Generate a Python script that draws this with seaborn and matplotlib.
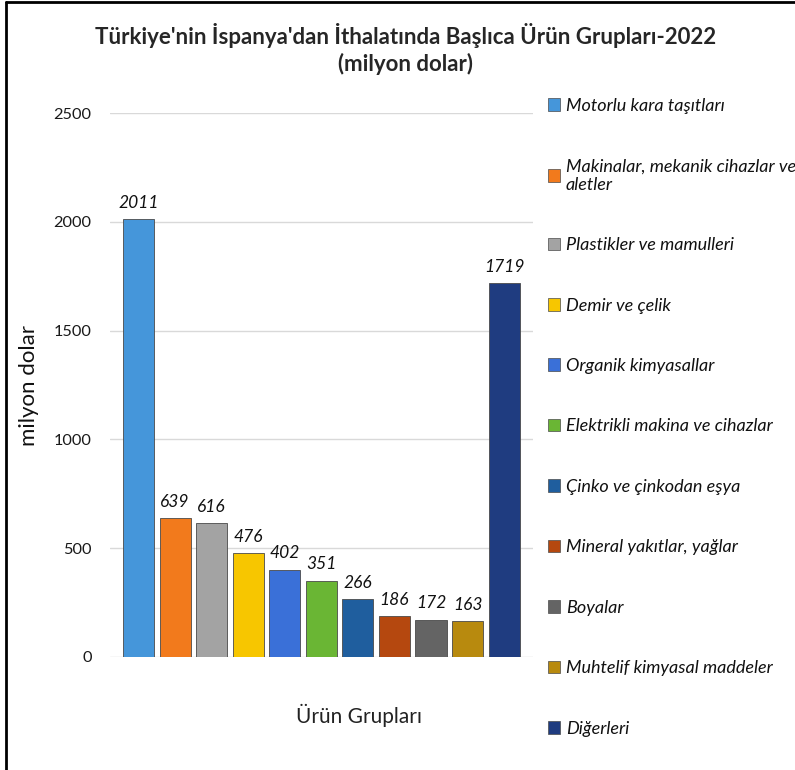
import matplotlib
matplotlib.use("Agg")
import matplotlib.pyplot as plt
import seaborn as sns
import pandas as pd
from matplotlib.patches import Patch
from matplotlib.lines import Line2D

# Data
urunler = ["Motorlu kara taşıtları", "Makinalar, mekanik cihazlar ve\naletler",
           "Plastikler ve mamulleri", "Demir ve çelik", "Organik kimyasallar",
           "Elektrikli makina ve cihazlar", "Çinko ve çinkodan eşya",
           "Mineral yakıtlar, yağlar", "Boyalar", "Muhtelif kimyasal maddeler",
           "Diğerleri"]
degerler = [2011, 639, 616, 476, 402, 351, 266, 186, 172, 163, 1719]
renkler = ["#4596da", "#f27a1c", "#a3a3a3", "#f7c600", "#3a70d8", "#6ab634",
           "#1f5e9e", "#b5480f", "#646464", "#b88a0e", "#1f3c80"]

df = pd.DataFrame({"urun": urunler, "deger": degerler})

sns.set_style("white")
plt.rcParams["font.family"] = ["Lato", "DejaVu Sans"]

fig = plt.figure(figsize=(7.95, 7.7), dpi=100)
ax = fig.add_axes([0.138, 0.1468, 0.532, 0.7064])

sns.barplot(data=df, x="urun", y="deger", hue="urun", palette=renkler,
            saturation=1, width=0.85, legend=False, ax=ax, zorder=3)
for bar in ax.patches:
    bar.set_edgecolor("#4a4a4a")
    bar.set_linewidth(0.6)

for i, v in enumerate(degerler):
    ax.annotate(str(v), (i, v), textcoords="offset points", xytext=(0, 6),
                ha="center", va="bottom", fontsize=12.5, style="italic",
                color="#111111", annotation_clip=False)

ax.set_ylim(0, 2500)
ax.set_xlim(-0.79, 10.78)
ax.set_yticks([0, 500, 1000, 1500, 2000, 2500])
ax.yaxis.grid(True, color="#d9d9d9", linewidth=1, zorder=0)
ax.set_xticks([])
for s in ax.spines.values():
    s.set_visible(False)
ax.tick_params(axis="y", length=0, pad=13, labelsize=11.8, labelcolor="#1a1a1a")

ax.set_ylabel("milyon dolar", fontsize=16, color="#111111")
ax.yaxis.set_label_coords(-0.168, 0.5)
ax.set_xlabel("Ürün Grupları", fontsize=15, color="#222222")
ax.xaxis.set_label_coords(0.59, -0.086)

fig.suptitle("Türkiye'nin İspanya'dan İthalatında Başlıca Ürün Grupları-2022\n(milyon dolar)",
             fontsize=16, fontweight="bold", y=0.97, x=0.51, linespacing=1.25)

handles = [Patch(facecolor=c, edgecolor="#4a4a4a", linewidth=0.5) for c in renkler]
leg = fig.legend(handles, urunler, loc="upper left", bbox_to_anchor=(0.689, 0.873),
                 frameon=False, prop={"size": 13, "style": "italic"},
                 labelspacing=2.46, handlelength=0.7, handleheight=0.7,
                 handletextpad=0.3, borderpad=0, borderaxespad=0)
for t in leg.get_texts():
    t.set_color("#111111")

# outer frame lines (left and top)
fig.add_artist(Line2D([0.008, 0.008], [0, 0.997], color="black", linewidth=2))
fig.add_artist(Line2D([0.008, 1], [0.997, 0.997], color="black", linewidth=2))

fig.savefig("out.png", dpi=100)
